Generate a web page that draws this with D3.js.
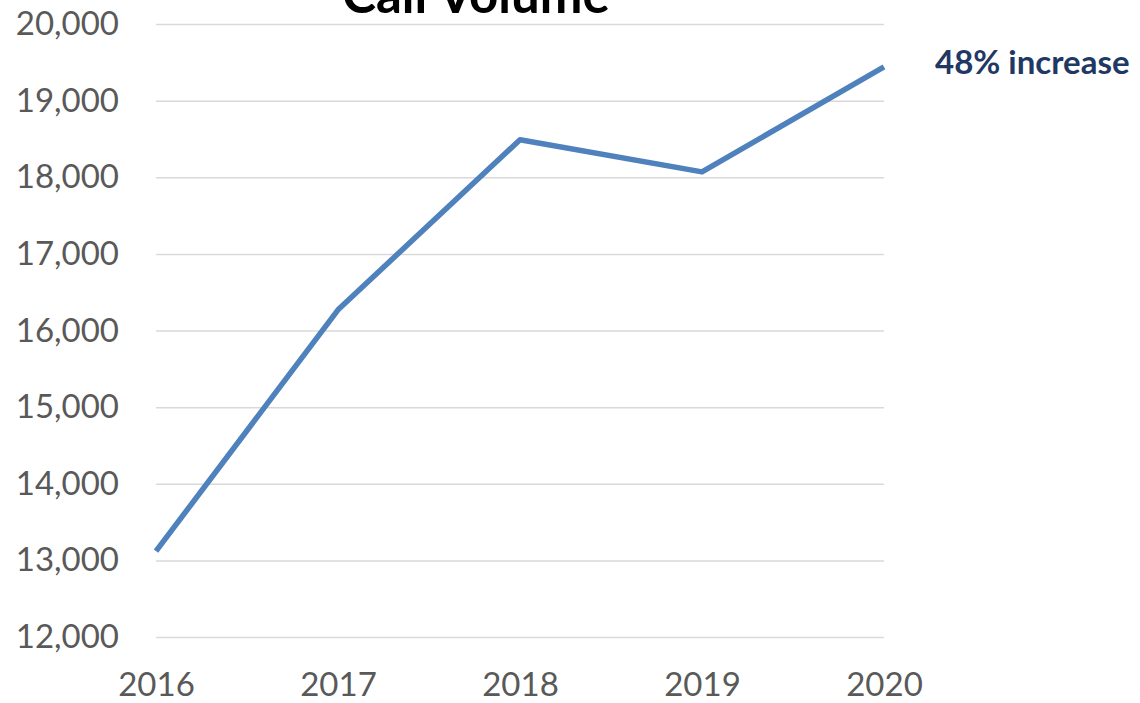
<!DOCTYPE html>
<html>
<head>
<meta charset="utf-8">
<script src="https://cdn.jsdelivr.net/npm/d3@7"></script>
<style>
  html, body { margin: 0; padding: 0; background: #fff; }
  svg { display: block; }
</style>
</head>
<body>
<svg id="chart" width="1140" height="703"></svg>
<script>
const years = ["2016", "2017", "2018", "2019", "2020"];
const callVolume = [13120, 16270, 18490, 18070, 19440];
const yTicks = [12000, 13000, 14000, 15000, 16000, 17000, 18000, 19000, 20000];
const titleText = "Call Volume";
const annotationText = "48% increase";

(function () {
const svg = d3.select("#chart");
const plotL = 156, plotR = 884, plotT = 24, plotB = 637;

const x = d3.scalePoint().domain(years).range([plotL, plotR]);
const y = d3.scaleLinear().domain([12000, 20000]).range([plotB, plotT]);

// gridlines
const yAxis = d3.axisLeft(y).tickValues(yTicks).tickSize(-(plotR - plotL)).tickPadding(37)
  .tickFormat(d3.format(","));
const gy = svg.append("g").attr("transform", `translate(${plotL},0)`).call(yAxis);
gy.select(".domain").remove();
gy.selectAll(".tick line").attr("stroke", "#D9D9D9").attr("stroke-width", 1.5);
gy.selectAll(".tick text")
  .attr("fill", "#595959")
  .style("font-family", "Lato, 'Open Sans', sans-serif")
  .style("font-size", "33px");

const xAxis = d3.axisBottom(x).tickSize(0).tickPadding(0);
const gx = svg.append("g").attr("transform", `translate(0,${plotB})`).call(xAxis);
gx.select(".domain").remove();
gx.selectAll(".tick text")
  .attr("fill", "#595959")
  .attr("dy", null)
  .attr("y", 59)
  .style("font-family", "Lato, 'Open Sans', sans-serif")
  .style("font-size", "33px");

// line
const line = d3.line().x((d, i) => x(years[i])).y(d => y(d));
svg.append("path")
  .datum(callVolume)
  .attr("d", line)
  .attr("fill", "none")
  .attr("stroke", "#4F81BD")
  .attr("stroke-width", 5.5)
  .attr("stroke-linejoin", "round");

// title (clipped at top)
svg.append("text")
  .attr("x", 476).attr("y", 13)
  .attr("text-anchor", "middle")
  .style("font-family", "Lato, sans-serif")
  .style("font-weight", "bold")
  .style("font-size", "51px")
  .attr("fill", "#000")
  .text(titleText);

// annotation
svg.append("text")
  .attr("x", 935).attr("y", 74)
  .style("font-family", "Lato, sans-serif")
  .style("font-weight", "bold")
  .style("font-size", "33px")
  .attr("fill", "#1F3864")
  .text(annotationText);
})();
</script>
</body>
</html>
